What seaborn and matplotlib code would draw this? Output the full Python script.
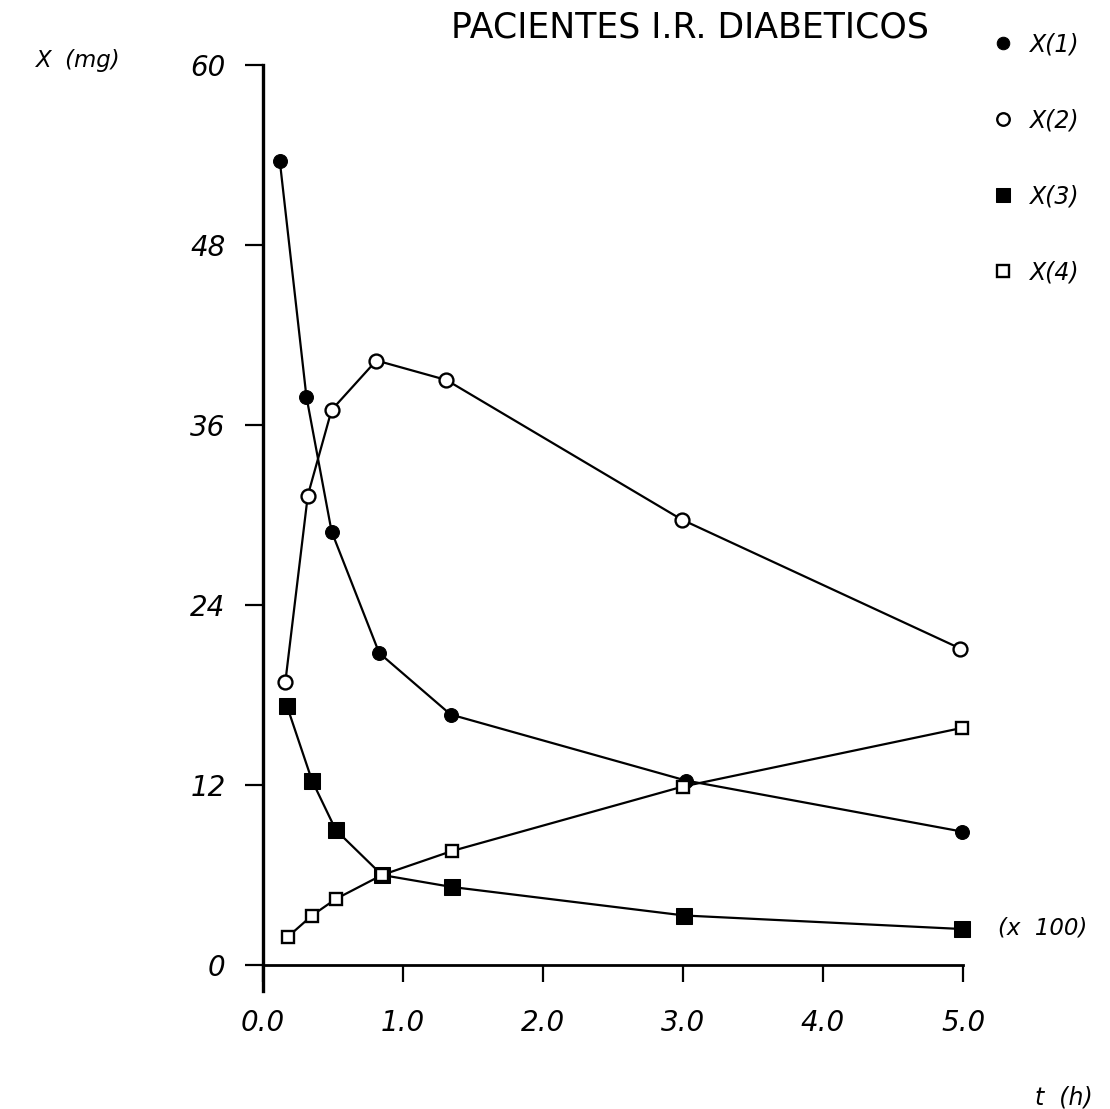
import numpy as np
import pandas as pd
import matplotlib
matplotlib.use('Agg')
import matplotlib.pyplot as plt
import seaborn as sns

# values (t in hours, X in mg x100)
t_x1 = [0.12, 0.31, 0.49, 0.83, 1.34, 3.02, 4.99]
x1 = [53.6, 37.9, 28.9, 20.8, 16.7, 12.3, 8.9]

t_x2 = [0.16, 0.32, 0.49, 0.81, 1.31, 2.99, 4.98]
x2 = [18.9, 31.3, 37.0, 40.3, 39.0, 29.7, 21.1]

t_x3 = [0.17, 0.35, 0.52, 0.85, 1.35, 3.01, 4.99]
x3 = [17.3, 12.3, 9.0, 6.0, 5.2, 3.3, 2.4]

t_x4 = [0.18, 0.35, 0.52, 0.85, 1.35, 3.00, 4.99]
x4 = [1.9, 3.3, 4.4, 6.0, 7.6, 11.9, 15.8]

series_names = ['X(1)', 'X(2)', 'X(3)', 'X(4)']
x_ticks = [0.0, 1.0, 2.0, 3.0, 4.0, 5.0]
y_ticks = [0, 12, 24, 36, 48, 60]

sns.set_style('white')
plt.rcParams['font.family'] = ['DejaVu Sans']
plt.rcParams['text.color'] = 'black'
plt.rcParams['xtick.color'] = 'black'
plt.rcParams['ytick.color'] = 'black'
plt.rcParams['axes.edgecolor'] = 'black'

fig = plt.figure(figsize=(11.1, 11.09), dpi=100)
ax = fig.add_axes([263 / 1110, 1 - 965 / 1109, 700 / 1110, 900 / 1109])

styles = [
    dict(marker='o', markersize=10, markerfacecolor='black'),
    dict(marker='o', markersize=10, markerfacecolor='white', markeredgewidth=1.7),
    dict(marker='s', markersize=11, markerfacecolor='black'),
    dict(marker='s', markersize=9, markerfacecolor='white', markeredgewidth=1.7),
]
for tt, vals, name, st in zip([t_x1, t_x2, t_x3, t_x4], [x1, x2, x3, x4], series_names, styles):
    df = pd.DataFrame({'t': tt, 'x': vals})
    sns.lineplot(data=df, x='t', y='x', ax=ax, color='black', linewidth=1.6,
                 markeredgecolor='black', label=name, sort=False, clip_on=False, **st)

ax.set_xlim(0, 5)
ax.set_ylim(0, 60)
ax.set_xticks(x_ticks)
ax.set_xticklabels([f'{v:.1f}' for v in x_ticks])
ax.set_yticks(y_ticks)
ax.set_xlabel('')
ax.set_ylabel('')

for s in ['top', 'right']:
    ax.spines[s].set_visible(False)
ax.spines['left'].set_linewidth(2.4)
ax.spines['bottom'].set_linewidth(2.0)
ax.spines['left'].set_bounds(-1.7, 60)

ax.tick_params(axis='y', direction='out', length=13, width=1.6, pad=14, labelsize=20, left=True)
ax.tick_params(axis='x', direction='out', length=12, width=1.6, pad=20, labelsize=20, bottom=True)
for lbl in ax.get_xticklabels() + ax.get_yticklabels():
    lbl.set_style('italic')

leg = ax.legend(loc='upper left', bbox_to_anchor=(982 / 1110, 1 - 11 / 1109),
                bbox_transform=fig.transFigure, frameon=False, handlelength=0,
                handletextpad=1.1, labelspacing=2.2, markerscale=0.9,
                prop=dict(size=17, style='italic'))

fig.text(690 / 1110, 1 - 28 / 1109, 'PACIENTES I.R. DIABETICOS', ha='center', va='center',
         fontsize=25)
fig.text(36 / 1110, 1 - 60 / 1109, 'X  (mg)', ha='left', va='center', fontsize=16.5, style='italic')
fig.text(1093 / 1110, 1 - 1098 / 1109, 't  (h)', ha='right', va='center', fontsize=17, style='italic')
fig.text(998 / 1110, 1 - 928 / 1109, '(x  100)', ha='left', va='center', fontsize=16.5, style='italic')

fig.savefig('out.png', dpi=100, facecolor='white')
